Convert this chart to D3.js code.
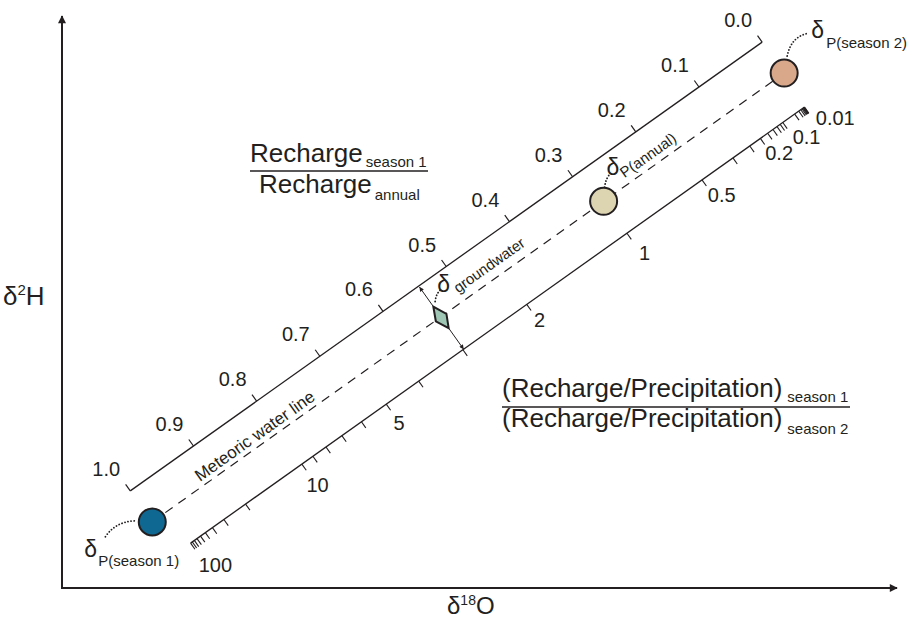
<!DOCTYPE html>
<html>
<head>
<meta charset="utf-8">
<script src="https://cdn.jsdelivr.net/npm/d3@7"></script>
<style>
  body { margin: 0; background: #fff; }
  svg { display: block; font-family: "Liberation Sans", Arial, sans-serif; fill: #231f20; }
</style>
</head>
<body>
<svg id="svg"></svg>
<script>
/**
 * DATA (conceptual isotope values, permil)
 * */
const pointNames = ["season1", "annual", "groundwater", "season2"];
const d18O = [-16, -6, -9.6, -2];
const d2H = [-118, -38, -67, -6];

// share of annual precipitation that falls in season 1 (position of the annual mean)
const precipShare1 = 0.285;

// upper scale: Recharge(season 1) / Recharge(annual)
const fractionTicks = [0, 0.1, 0.2, 0.3, 0.4, 0.5, 0.6, 0.7, 0.8, 0.9, 1.0];

// lower scale: (R/P) season 1 / (R/P) season 2
const ratioLabelled = [100, 10, 5, 2, 1, 0.5, 0.2, 0.1, 0.01];
const ratioLabels = ["100", "10", "5", "2", "1", "0.5", "0.2", "0.1", "0.01"];
const ratioMinor = [90, 80, 70, 60, 50, 40, 30, 20, 9, 8, 7, 6, 4, 3,
  1/3, 1/4, 1/6, 1/7, 1/8, 1/9, 1/20, 1/30, 1/40, 1/50, 1/60, 1/70, 1/80, 1/90];

/**
 * LAYOUT
 * */
const width = 917, height = 621;
const ink = "#231f20";
const pointFill = ["#0e6892", "#ddd4b2", "#9fc6b4", "#d9a88b"];
const labelNudge = [[12, 4], [3, 3], [0, 1], [0, -2], [5, 2], [7, -3], [6, -3], [11, -3], [18, -7]];

const svg = d3.select("#svg").attr("width", width).attr("height", height);

const x = d3.scaleLinear().domain([-18, 0.5]).range([62, 897]);
const y = d3.scaleLinear().domain([-134.5, 8.5]).range([588, 15]);

const px = i => [x(d18O[i]), y(d2H[i])];
const s1 = px(0), s2 = px(3);

// fraction of season-1 water -> pixel position on the meteoric water line
const mix = d3.scaleLinear().domain([0, 1]).range([s2, s1]);

const len = Math.hypot(s2[0] - s1[0], s2[1] - s1[1]);
const u = [(s2[0] - s1[0]) / len, (s2[1] - s1[1]) / len];
const n = [-u[1], u[0]];
const angle = Math.atan2(u[1], u[0]) * 180 / Math.PI;
const add = (p, v, k) => [p[0] + v[0] * k, p[1] + v[1] * k];

const toFraction = r => r * precipShare1 / (r * precipShare1 + 1 - precipShare1);
const fracPt = f => add(mix(f), n, -38);
const ratioPt = r => add(mix(toFraction(r)), n, 39.5);

const line = d3.line();

// markers
const defs = svg.append("defs");
defs.append("marker").attr("id", "axisHead")
  .attr("viewBox", "0 0 10 10").attr("refX", 9).attr("refY", 5)
  .attr("markerUnits", "userSpaceOnUse").attr("markerWidth", 11).attr("markerHeight", 8)
  .attr("orient", "auto")
  .append("path").attr("d", "M0,0L10,5L0,10z").attr("fill", ink);
defs.append("marker").attr("id", "smallHead")
  .attr("viewBox", "0 0 10 10").attr("refX", 10).attr("refY", 5)
  .attr("markerUnits", "userSpaceOnUse").attr("markerWidth", 6).attr("markerHeight", 4.5)
  .attr("orient", "auto")
  .append("path").attr("d", "M0,0L10,5L0,10z").attr("fill", ink);

// axes
svg.append("path")
  .attr("d", line([[x.range()[0], y.range()[0]], [x.range()[0], y.range()[1] + 1]]))
  .attr("stroke", ink).attr("stroke-width", 2).attr("fill", "none")
  .attr("marker-end", "url(#axisHead)");
svg.append("path")
  .attr("d", line([[x.range()[0] - 1, y.range()[0]], [x.range()[1], y.range()[0]]]))
  .attr("stroke", ink).attr("stroke-width", 2).attr("fill", "none")
  .attr("marker-end", "url(#axisHead)");

const yLab = svg.append("text").attr("x", 3).attr("y", 305).attr("font-size", 26);
yLab.append("tspan").text("δ");
yLab.append("tspan").attr("font-size", 15).attr("dy", -10).text("2");
yLab.append("tspan").attr("dy", 10).text("H");

const xLab = svg.append("text").attr("x", 447).attr("y", 614).attr("font-size", 24);
xLab.append("tspan").text("δ");
xLab.append("tspan").attr("font-size", 14).attr("dy", -9).text("18");
xLab.append("tspan").attr("dy", 9).text("O");

// upper scale
svg.append("path").attr("d", line([fracPt(0), fracPt(1)]))
  .attr("stroke", ink).attr("stroke-width", 1.3).attr("fill", "none");
svg.selectAll(".ftick").data(fractionTicks).join("path")
  .attr("class", "ftick")
  .attr("d", f => line([fracPt(f), add(fracPt(f), n, -8)]))
  .attr("stroke", ink).attr("stroke-width", 1.2);
svg.selectAll(".flab").data(fractionTicks).join("text")
  .attr("class", "flab")
  .attr("x", f => fracPt(f)[0] - 24)
  .attr("y", f => fracPt(f)[1] - 22 + 7)
  .attr("text-anchor", "middle").attr("font-size", 20)
  .text(d3.format(".1f"));

// lower scale
svg.append("path").attr("d", line([ratioPt(100), ratioPt(0.01)]))
  .attr("stroke", ink).attr("stroke-width", 1.3).attr("fill", "none");
svg.selectAll(".rtick").data(ratioLabelled.concat(ratioMinor)).join("path")
  .attr("class", "rtick")
  .attr("d", r => line([ratioPt(r), add(ratioPt(r), n, 7.5)]))
  .attr("stroke", ink).attr("stroke-width", 1.1);
svg.selectAll(".rlab").data(ratioLabelled).join("text")
  .attr("class", "rlab")
  .attr("x", (r, i) => add(ratioPt(r), n, 22)[0] + labelNudge[i][0])
  .attr("y", (r, i) => add(ratioPt(r), n, 22)[1] + labelNudge[i][1] + 7)
  .attr("text-anchor", "middle").attr("font-size", 20)
  .text((r, i) => ratioLabels[i]);

// meteoric water line
svg.append("path").attr("d", line([s1, s2]))
  .attr("stroke", ink).attr("stroke-width", 1.2).attr("stroke-dasharray", "9,7")
  .attr("fill", "none");
svg.append("g")
  .attr("transform", `translate(${mix(0.828)}) rotate(${angle})`)
  .append("text").attr("y", -5).attr("text-anchor", "middle").attr("font-size", 17)
  .text("Meteoric water line");

// groundwater arrows to both scales
const gw = px(2);
svg.append("path").attr("d", line([add(gw, n, -14.5), add(gw, n, -37.5)]))
  .attr("stroke", ink).attr("stroke-width", 1).attr("marker-end", "url(#smallHead)");
svg.append("path").attr("d", line([add(gw, n, 14), add(gw, n, 39)]))
  .attr("stroke", ink).attr("stroke-width", 1).attr("marker-end", "url(#smallHead)");

// dotted leaders [start, control, end] relative to each point
const leaders = [
  [[-18, -1], [-37, 0], [-47, 15]],
  [[1, -14], [2, -23], [7, -28]],
  [[-6, -16], [-5, -25], [1, -29]],
  [[3, -17], [7, -37], [25, -40]]
];
svg.selectAll(".leader").data(pointNames).join("path")
  .attr("class", "leader")
  .attr("d", (d, i) => {
    const p = px(i), L = leaders[i];
    const path = d3.path();
    path.moveTo(p[0] + L[0][0], p[1] + L[0][1]);
    path.quadraticCurveTo(p[0] + L[1][0], p[1] + L[1][1], p[0] + L[2][0], p[1] + L[2][1]);
    return path.toString();
  })
  .attr("fill", "none").attr("stroke", ink).attr("stroke-width", 1.8)
  .attr("stroke-linecap", "round").attr("stroke-dasharray", "0.1,3");

// precipitation end-members and annual mean
const circles = [0, 1, 3];
svg.selectAll(".pt").data(circles).join("circle")
  .attr("class", "pt")
  .attr("cx", i => px(i)[0]).attr("cy", i => px(i)[1]).attr("r", 13.5)
  .attr("fill", i => pointFill[i]).attr("stroke", ink).attr("stroke-width", 2);

// groundwater diamond
svg.append("path")
  .attr("d", line([add(gw, n, -13.5), add(gw, u, 6.5), add(gw, n, 13), add(gw, u, -6.5)]) + "Z")
  .attr("fill", pointFill[2]).attr("stroke", ink).attr("stroke-width", 2)
  .attr("stroke-linejoin", "miter");

// delta labels: upright delta, subscript either flat or along the water line
function deltaLabel(pos, sub, subPos, rotated) {
  svg.append("text").attr("x", pos[0]).attr("y", pos[1]).attr("font-size", 23).text("δ");
  svg.append("text")
    .attr("transform", `translate(${subPos}) rotate(${rotated ? angle : 0})`)
    .attr("font-size", 15).text(sub);
}
const pA = px(1), pS1 = px(0), pS2 = px(3);
deltaLabel([pS2[0] + 27, pS2[1] - 35], "P(season 2)", [pS2[0] + 42, pS2[1] - 25], false);
deltaLabel([pS1[0] - 68, pS1[1] + 35], "P(season 1)", [pS1[0] - 54, pS1[1] + 44], false);
deltaLabel([pA[0] + 3, pA[1] - 26], "P(annual)", [pA[0] + 21, pA[1] - 23], true);
deltaLabel([gw[0] - 4, gw[1] - 26], "groundwater", [gw[0] + 17, gw[1] - 24], true);

// scale titles
const t1 = svg.append("text").attr("x", 250).attr("y", 162).attr("font-size", 26);
t1.append("tspan").text("Recharge");
t1.append("tspan").attr("font-size", 15).attr("dx", 3).attr("dy", 5).text("season 1");
svg.append("line").attr("x1", 250).attr("x2", 428).attr("y1", 171).attr("y2", 171)
  .attr("stroke", ink).attr("stroke-width", 1.6);
const t2 = svg.append("text").attr("x", 259).attr("y", 193).attr("font-size", 26);
t2.append("tspan").text("Recharge");
t2.append("tspan").attr("font-size", 15).attr("dx", 3).attr("dy", 7).text("annual");

const t3 = svg.append("text").attr("x", 502).attr("y", 397).attr("font-size", 26);
t3.append("tspan").text("(Recharge/Precipitation)");
t3.append("tspan").attr("font-size", 15).attr("dx", 5).attr("dy", 5).text("season 1");
svg.append("line").attr("x1", 502).attr("x2", 850).attr("y1", 407).attr("y2", 407)
  .attr("stroke", ink).attr("stroke-width", 1.6);
const t4 = svg.append("text").attr("x", 502).attr("y", 427).attr("font-size", 26);
t4.append("tspan").text("(Recharge/Precipitation)");
t4.append("tspan").attr("font-size", 15).attr("dx", 5).attr("dy", 7).text("season 2");
</script>
</body>
</html>
